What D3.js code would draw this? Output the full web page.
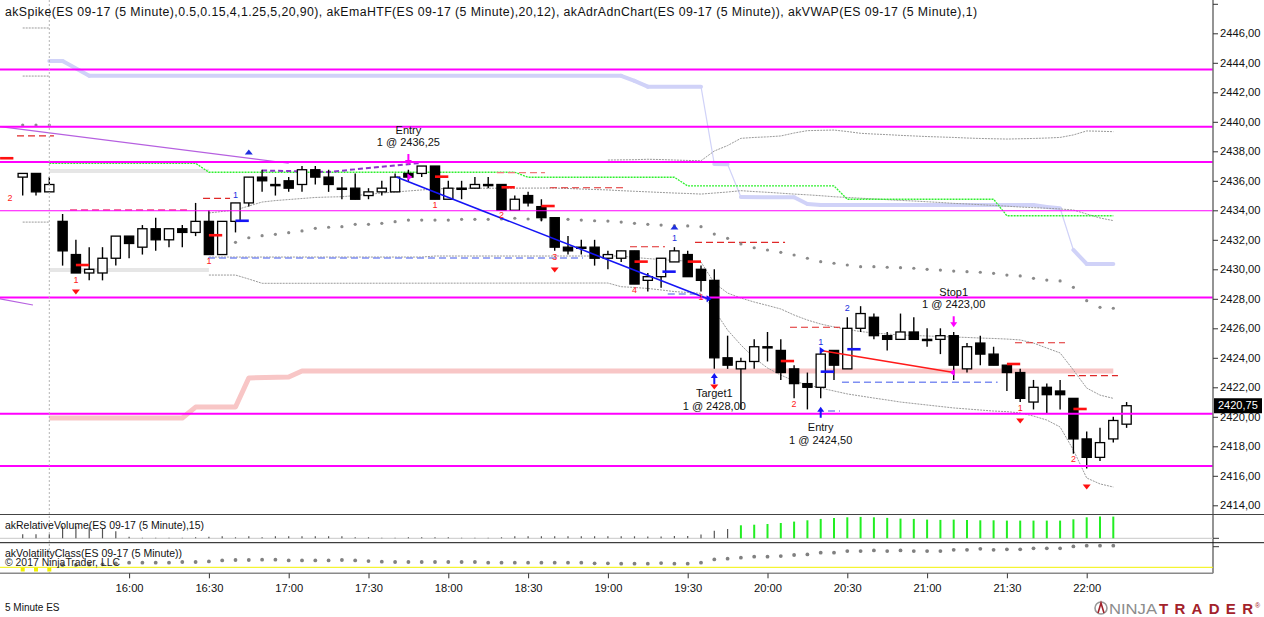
<!DOCTYPE html>
<html><head><meta charset="utf-8">
<script src="https://cdn.jsdelivr.net/npm/d3@7"></script>
<style>
html,body{margin:0;padding:0;background:#fff;overflow:hidden;}
svg{display:block;font-family:"Liberation Sans",Arial,sans-serif;}
</style></head><body>
<svg id="c" width="1264" height="617"></svg>
<script>
// ---------------- DATA ----------------
const firstBarTime = "15:20";
const barMinutes = 5;
const tickLabels = ["16:00","16:30","17:00","17:30","18:00","18:30","19:00","19:30","20:00","20:30","21:00","21:30","22:00"];
const priceTicks = [2414,2416,2418,2420,2422,2424,2426,2428,2430,2432,2434,2436,2438,2440,2442,2444,2446,2448];
const lastPrice = 2420.75;

const open  = [2436.25,2436.5,2435.25,2433.25,2431.0,2429.75,2429.75,2430.75,2432.25,2431.5,2432.75,2432.0,2432.75,2432.5,2433.25,2431.0,2433.25,2434.5,2436.25,2435.75,2436.0,2435.75,2436.75,2436.25,2435.5,2435.5,2435.0,2435.25,2435.25,2436.5,2436.5,2437.0,2434.75,2435.5,2435.5,2435.75,2435.75,2434.0,2435.0,2434.25,2433.5,2431.5,2431.5,2431.5,2430.75,2430.75,2431.25,2429.25,2429.5,2430.5,2431.0,2430.0,2429.25,2424.0,2423.25,2423.75,2424.75,2424.5,2423.25,2422.25,2422.0,2424.5,2423.25,2426.0,2426.75,2425.5,2425.25,2425.75,2425.25,2425.25,2425.5,2423.25,2425.0,2424.25,2423.5,2423.0,2421.0,2422.0,2421.75,2421.25,2418.5,2417.25,2418.5,2419.5];
const high  = [2436.5,2436.5,2436.25,2433.75,2432.0,2431.5,2431.5,2432.25,2432.25,2433.0,2433.5,2432.75,2433.0,2434.5,2434.0,2433.25,2434.5,2436.25,2436.75,2436.25,2436.25,2437.0,2437.0,2436.75,2436.25,2436.5,2435.5,2436.0,2436.5,2436.75,2437.0,2437.0,2436.0,2436.0,2436.25,2436.25,2435.75,2435.0,2435.25,2434.75,2433.5,2432.25,2432.0,2432.0,2431.25,2431.25,2431.25,2429.75,2430.75,2431.5,2431.25,2430.25,2430.0,2425.5,2424.0,2425.25,2425.75,2425.25,2423.5,2423.0,2424.5,2424.5,2426.75,2427.5,2427.0,2425.75,2427.0,2426.75,2426.0,2426.0,2425.75,2425.0,2425.5,2424.75,2423.5,2423.25,2422.5,2422.25,2422.5,2421.25,2419.0,2419.25,2420.0,2421.0];
const low   = [2435.0,2435.0,2435.25,2430.25,2429.75,2429.25,2429.25,2430.25,2430.75,2431.0,2431.25,2431.5,2431.5,2432.25,2431.0,2431.0,2432.5,2434.25,2435.25,2435.0,2435.25,2435.25,2435.75,2435.25,2434.75,2434.75,2434.75,2435.0,2435.25,2436.0,2436.25,2434.75,2434.75,2434.75,2435.5,2435.5,2434.0,2434.0,2434.25,2433.25,2431.25,2431.0,2431.0,2430.25,2430.0,2430.5,2429.0,2428.5,2428.75,2430.5,2429.5,2428.5,2423.25,2423.25,2420.5,2423.25,2423.75,2422.5,2421.25,2420.5,2421.25,2422.5,2423.25,2425.75,2425.25,2424.5,2425.25,2425.25,2424.75,2424.25,2422.5,2423.0,2423.5,2423.5,2421.75,2421.0,2420.5,2420.25,2420.5,2417.5,2416.5,2417.0,2418.25,2419.25];
const close = [2436.5,2435.25,2435.75,2431.25,2429.75,2430.0,2430.75,2432.25,2431.75,2432.75,2432.0,2432.75,2432.5,2433.25,2431.0,2433.25,2434.5,2436.25,2436.0,2435.75,2435.5,2436.75,2436.25,2435.75,2435.5,2434.75,2435.25,2435.5,2436.25,2436.25,2437.0,2434.75,2435.5,2435.5,2435.75,2435.75,2434.0,2434.75,2434.5,2433.5,2431.5,2431.25,2431.5,2430.75,2431.0,2431.25,2429.0,2429.5,2430.75,2431.25,2429.5,2429.25,2424.0,2423.5,2423.75,2424.75,2424.75,2423.0,2422.25,2422.0,2424.25,2423.5,2426.0,2427.0,2425.5,2425.25,2425.75,2425.25,2425.25,2425.5,2423.5,2424.75,2424.25,2423.5,2423.0,2421.25,2422.0,2421.5,2421.5,2418.5,2417.25,2418.25,2419.75,2420.75];

// horizontal levels (magenta)
const magentaLevels = [2443.55,2439.67,2437.27,2433.97,2428.08,2420.2,2416.67];

// indicator polylines: [barIndex, price]
const emaHTF = [[2,2444.12],[3,2444.12],[5,2443.12],[45,2443.12],[46,2442.77],[47,2442.38],[51,2442.38],[52,2437.14],[53,2437.12],[54,2434.9],[58,2434.88],[59,2434.43],[60,2434.36],[76,2434.36],[77,2434.22],[78,2434.14],[79,2431.31],[80,2430.36],[82,2430.36]];
const greenLevel = [[2,2437.19],[13,2437.19],[14,2436.58],[37,2436.58],[38,2436.24],[49,2436.24],[50,2435.65],[61,2435.65],[62,2434.75],[73,2434.75],[74,2433.63],[82,2433.63]];
const pinkLevel = [[2,2419.92],[12,2419.92],[13,2420.66],[16,2420.66],[17,2422.63],[20,2422.7],[21,2423.1],[82,2423.1]];
const greyLevelHigh = [[2,2436.66],[14,2436.66]];
const greyLevelLow = [[2,2429.95],[14,2429.95]];
const priorStubs = [[[0,2446.36],[2,2446.36]],[[0,2443.1],[2,2443.1]],[[0,2433.2],[2,2433.2]]];
const bandTop = [[44,2437.41],[46,2437.43],[47,2437.46],[48,2437.44],[49,2437.41],[50,2437.38],[51,2437.36],[52,2438.02],[53,2438.39],[54,2438.88],[55,2438.94],[56,2438.98],[57,2439.04],[58,2439.24],[59,2439.4],[60,2439.42],[61,2439.44],[62,2439.34],[63,2439.22],[64,2439.17],[65,2439.13],[66,2439.08],[67,2439.04],[68,2439.0],[69,2438.97],[70,2438.94],[71,2438.9],[72,2438.87],[73,2438.85],[74,2438.83],[75,2438.85],[76,2438.87],[77,2438.9],[78,2438.94],[79,2439.11],[80,2439.38],[81,2439.36],[82,2439.33]];
const bandUpper = [[14,2433.82],[15,2433.92],[16,2434.02],[17,2434.29],[18,2434.56],[19,2434.66],[20,2434.73],[21,2434.8],[22,2434.87],[23,2434.9],[24,2434.92],[25,2435.0],[26,2435.08],[27,2435.17],[28,2435.24],[29,2435.31],[30,2435.38],[31,2435.44],[32,2435.49],[40,2435.51],[41,2435.48],[42,2435.44],[43,2435.41],[44,2435.38],[45,2435.33],[46,2435.29],[47,2435.25],[48,2435.21],[49,2435.17],[50,2435.14],[51,2435.1],[52,2435.17],[53,2435.24],[54,2435.33],[55,2435.27],[56,2435.22],[57,2435.16],[58,2435.1],[59,2435.05],[60,2434.99],[61,2434.92],[62,2434.87],[63,2434.82],[64,2434.77],[65,2434.72],[66,2434.67],[67,2434.63],[68,2434.58],[69,2434.53],[70,2434.47],[71,2434.43],[72,2434.38],[73,2434.33],[74,2434.28],[75,2434.22],[76,2434.18],[77,2434.14],[78,2434.09],[79,2434.02],[80,2433.75],[81,2433.48],[82,2433.3]];
const bandMiddle = [[14,2430.83],[30,2430.83],[31,2430.9],[45,2430.9],[46,2430.8],[47,2430.73],[48,2430.66],[49,2430.6],[50,2430.56],[51,2430.49],[52,2429.07],[53,2428.39],[54,2428.05],[55,2427.78],[56,2427.55],[57,2427.31],[58,2426.9],[59,2426.56],[60,2426.29],[61,2426.09],[62,2425.92],[63,2425.78],[64,2425.68],[65,2425.61],[66,2425.55],[67,2425.51],[68,2425.48],[69,2425.44],[70,2425.41],[71,2425.38],[72,2425.34],[73,2425.31],[74,2425.27],[75,2425.21],[76,2425.0],[77,2424.66],[78,2424.33],[79,2423.17],[80,2421.95],[81,2421.47],[82,2421.25]];
const bandLower = [[14,2429.61],[16,2429.61],[17,2429.34],[18,2429.05],[44,2429.07],[45,2428.82],[46,2428.77],[47,2428.7],[48,2428.6],[49,2428.49],[50,2428.43],[51,2428.37],[52,2427.24],[53,2425.88],[54,2424.87],[55,2423.99],[56,2423.31],[57,2422.83],[58,2422.43],[59,2422.16],[60,2421.95],[61,2421.75],[62,2421.55],[63,2421.41],[64,2421.27],[65,2421.14],[66,2421.0],[67,2420.9],[68,2420.8],[69,2420.7],[70,2420.6],[71,2420.53],[72,2420.46],[73,2420.39],[74,2420.35],[75,2420.26],[76,2420.05],[77,2419.78],[78,2419.31],[79,2417.75],[80,2415.85],[81,2415.45],[82,2415.24]];
const purpleSolid = [[-1.71,2439.67],[20,2437.19]];
const purpleDashed = [[18,2436.7],[23,2436.6],[29.8,2437.2]];
const purpleStub = [[-1.71,2427.99],[0.77,2427.58]];

// VWAP dots (first index 15) and prior-session dots (index 0..2)
const vwapStart = 15;
const vwap = [2431.76,2431.83,2432.14,2432.28,2432.37,2432.48,2432.6,2432.78,2432.85,2432.89,2433.05,2433.05,2433.12,2433.23,2433.34,2433.34,2433.34,2433.34,2433.39,2433.39,2433.39,2433.41,2433.46,2433.41,2433.39,2433.39,2433.39,2433.34,2433.29,2433.27,2433.2,2433.12,2433.05,2433.0,2432.96,2432.94,2432.89,2432.39,2432.1,2431.72,2431.46,2431.31,2431.15,2430.97,2430.75,2430.52,2430.41,2430.29,2430.18,2430.18,2430.14,2430.11,2430.07,2430.0,2429.95,2429.88,2429.84,2429.8,2429.73,2429.61,2429.55,2429.39,2429.27,2429.21,2428.78,2427.87,2427.42,2427.36];
const vwapPrior = [2439.78,2439.78,2439.78];

// dashed level segments [fromBar, toBar, price]
const redDash = [[-0.43,2.35,2439.04],[13.56,15.59,2434.81],[39.65,45.44,2435.53],[45.66,48.29,2431.53],[50.55,57.32,2431.82],[57.69,61.45,2426.07],[74.61,78.37,2425.02],[78.59,82.35,2422.79]];
const lightRedDash = [[35.66,39.27,2436.55]];
const pinkDash = [[3.56,12.35,2434.02]];
const blueDash = [[13.93,42.13,2430.77],[48.5,50.93,2428.33],[61.6,73.3,2422.34],[60.55,61.45,2420.39]];

// spike markers
const redMarks = [[-1.7,2437.53],[4,2430.29],[14,2432.31],[31,2436.28],[36,2435.56],[39,2434.29],[46,2430.52],[50,2430.52],[57,2423.78],[74,2423.58],[79,2420.53]];
const blueMarks = [[16,2433.29],[48.1,2429.84],[60,2423.06],[62,2424.58]];
const redDown = [[4,2428.46],[40,2429.95],[52,2422.02],[75,2419.72],[80,2415.24]];
const blueUp = [[17,2437.95],[49,2432.87]];
const redCounts = [[-0.95,2434.77,"2"],[4,2429.21,"1"],[14,2430.49,"1"],[31,2434.29,"1"],[36,2433.61,"2"],[40,2430.77,"3"],[46,2428.53,"4"],[51,2428.05,"1"],[58,2420.8,"2"],[75,2420.53,"1"],[79,2417.07,"2"]];
const blueCounts = [[16,2434.97,"1"],[49,2432.05,"1"],[60,2425.0,"1"],[62,2427.31,"2"]];

// trades
const tradeLines = [{side:"short",from:[28.1,2436.25],to:[51.5,2428.0]},{side:"long",from:[60,2424.5],to:[70,2423.0]}];
const tradeArrows = [
  {i:29,tip:2437.07,dir:"down",kind:"entryShort",text:["Entry","1 @ 2436,25"]},
  {i:52,tip:2422.97,dir:"up",kind:"exit",text:["Target1","1 @ 2428,00"]},
  {i:60,tip:2420.68,dir:"up",kind:"entryLong",text:["Entry","1 @ 2424,50"]},
  {i:70,tip:2426.07,dir:"down",kind:"stop",text:["Stop1","1 @ 2423,00"]}
];
const fillMarks = [{i:29,p:2436.25,kind:"m"},{i:51.5,p:2428.0,kind:"b"},{i:60,p:2424.5,kind:"b"},{i:70,p:2423.0,kind:"mL"}];

// lower panels
const relVolume = [0.4,0.4,0.4,1.2,1.2,1.1,1.0,0.7,0.15,0.05,0.05,0.05,0.05,0.1,0.15,0.2,0.1,0.2,0.1,0.2,0.2,0.2,0.2,0.2,0.2,0.1,0.1,0.05,0.05,0.1,0.1,0.1,0.1,0.05,0.05,0.05,0.1,0.2,0.2,0.2,0.2,0.2,0.2,0.2,0.2,0.2,0.2,0.17,0.17,0.24,0.24,0.37,0.75,0.92,1.3,1.36,1.43,1.53,1.67,1.8,1.94,2.04,2.1,2.14,2.1,2.04,1.97,1.94,1.87,1.84,1.87,1.84,1.8,1.8,1.77,1.77,1.77,1.77,1.77,1.9,2.1,2.17,2.17];
const relVolumeThreshold = 1.25;
const volClassStart = 3;
const volClass = [0.93,0.93,1.06,1.22,1.63,1.87,1.87,1.87,1.87,2.15,2.15,2.4,2.8,2.97,2.97,3.09,3.09,2.8,2.8,2.8,2.8,2.97,2.8,2.52,2.28,2.15,2.15,2.15,2.15,2.15,2.15,2.15,1.87,1.87,1.87,1.87,1.87,1.87,1.87,1.87,1.63,1.63,1.46,1.46,1.46,1.73,1.46,1.46,1.87,3.21,3.5,3.9,4.3,4.3,4.55,5.0,5.24,5.93,5.93,6.59,6.59,6.87,6.59,6.87,6.59,6.59,6.59,7.11,7.11,7.52,7.11,7.3,7.3,7.7,7.7,7.7,8.5,8.8,8.8,8.8];
const volClassPrior = [-0.9,-0.9,-0.9];

const headerText = "akSpike(ES 09-17 (5 Minute),0.5,0.15,4,1.25,5,20,90), akEmaHTF(ES 09-17 (5 Minute),20,12), akAdrAdnChart(ES 09-17 (5 Minute)), akVWAP(ES 09-17 (5 Minute),1)";

// ---------------- DRAW ----------------
const [h0,m0] = firstBarTime.split(":").map(Number);
const times = open.map((_,i)=>{const t=h0*60+m0+i*barMinutes;return String(Math.floor(t/60)).padStart(2,"0")+":"+String(t%60).padStart(2,"0");});
const tickIdx = tickLabels.map(l=>times.indexOf(l));

const W=1264, AX=1213;
const x = d3.scaleLinear().domain([0,open.length-1]).range([22.7,1126.6]);
const y = d3.scaleLinear().domain([2414,2446]).range([505.3,33.3]);
const vy = d3.scaleLinear().domain([0,2.2]).range([538.3,516.3]);
const cy = d3.scaleLinear().domain([0,10]).range([567.3,542.7]);
const fmt = d=>d3.format(".2f")(d).replace(".",",");

const svg = d3.select("#c");
svg.append("rect").attr("width",W).attr("height",617).attr("fill","#fff");
svg.append("defs").append("clipPath").attr("id","mc").append("rect").attr("x",0).attr("y",0).attr("width",AX).attr("height",514);
const main = svg.append("g").attr("clip-path","url(#mc)");
const pl = d3.line().x(d=>x(d[0])).y(d=>y(d[1]));

function path(g,data,stroke,w,dash,op){const p=g.append("path").attr("d",pl(data)).attr("fill","none").attr("stroke",stroke).attr("stroke-width",w).attr("stroke-linejoin","round");if(dash)p.attr("stroke-dasharray",dash);if(op)p.attr("opacity",op);return p;}

// session separator
svg.append("line").attr("x1",49.3).attr("x2",49.3).attr("y1",0).attr("y2",573).attr("stroke","#b5b5b5").attr("stroke-dasharray","2,2");

// background levels
path(main,greyLevelHigh,"#e6e6e6",4);
path(main,greyLevelLow,"#e6e6e6",4);
path(main,pinkLevel,"#f8c6c6",5);
// EMA HTF: thick where flat, thin where steep
const emaSegs = d3.pairs(emaHTF);
main.selectAll(null).data(emaSegs).join("line")
  .attr("x1",d=>x(d[0][0])).attr("y1",d=>y(d[0][1])).attr("x2",d=>x(d[1][0])).attr("y2",d=>y(d[1][1]))
  .attr("stroke","#d0d2f8").attr("stroke-linecap","round")
  .attr("stroke-width",d=>Math.abs(y(d[1][1])-y(d[0][1]))>1.2*Math.abs(x(d[1][0])-x(d[0][0]))?1.2:4);
[bandTop,bandUpper,bandMiddle,bandLower].forEach(b=>path(main,b,"#9a9a9a",1,"2,1"));
priorStubs.forEach(b=>path(main,b,"#9a9a9a",1,"2,1"));
path(main,greenLevel,"#2ef02e",1.3,"2,1");
path(main,purpleSolid,"#b660e0",1.2);
path(main,purpleDashed,"#8a38c8",2,"5,3");
path(main,purpleStub,"#b660e0",1.2);

function dashSegs(arr,color,w,dash){main.selectAll(null).data(arr).join("line").attr("x1",d=>x(d[0])).attr("x2",d=>x(d[1])).attr("y1",d=>y(d[2])).attr("y2",d=>y(d[2])).attr("stroke",color).attr("stroke-width",w).attr("stroke-dasharray",dash);}
dashSegs(redDash,"#e02828",1.2,"7,4");
dashSegs(lightRedDash,"#f07878",1.2,"7,4");
dashSegs(pinkDash,"#f03c80",1.5,"7,4");
dashSegs(blueDash,"#7f8ff2",1.5,"7,4");

// VWAP dots
main.selectAll(null).data(vwap).join("circle").attr("cx",(d,i)=>x(vwapStart+i)).attr("cy",d=>y(d)).attr("r",1.6).attr("fill","#8a8a8a");
main.selectAll(null).data(vwapPrior).join("circle").attr("cx",(d,i)=>x(i)).attr("cy",d=>y(d)).attr("r",1.6).attr("fill","#8a8a8a");

// candles
const bars = open.map((o,i)=>({i,o,h:high[i],l:low[i],c:close[i]}));
main.selectAll(null).data(bars).join("line").attr("x1",d=>x(d.i)).attr("x2",d=>x(d.i)).attr("y1",d=>y(d.h)).attr("y2",d=>y(d.l)).attr("stroke","#000").attr("stroke-width",1.4);
main.selectAll(null).data(bars).join("rect")
  .attr("x",d=>x(d.i)-4.6).attr("width",9.2)
  .attr("y",d=>y(Math.max(d.o,d.c))).attr("height",d=>Math.max(1.2,Math.abs(y(d.o)-y(d.c))))
  .attr("fill",d=>d.c>d.o?"#fff":"#000").attr("stroke","#000").attr("stroke-width",1.3);

// magenta levels
main.selectAll(null).data(magentaLevels).join("line").attr("x1",0).attr("x2",AX).attr("y1",d=>y(d)).attr("y2",d=>y(d))
  .attr("stroke","#ff00ff").attr("stroke-width",(d,i)=>i===3?1.2:2);

// trade lines
tradeLines.forEach(t=>path(main,[t.from,t.to],t.side==="short"?"#1515f5":"#ff1a1a",1.6));

// spike markers
main.selectAll(null).data(redMarks).join("line").attr("x1",d=>x(d[0])).attr("x2",d=>x(d[0]+1)).attr("y1",d=>y(d[1])).attr("y2",d=>y(d[1])).attr("stroke","#ff1010").attr("stroke-width",2.6);
main.selectAll(null).data(blueMarks).join("line").attr("x1",d=>x(d[0])).attr("x2",d=>x(d[0]+1)).attr("y1",d=>y(d[1])).attr("y2",d=>y(d[1])).attr("stroke","#1515f5").attr("stroke-width",2.6);
main.selectAll(null).data(redDown).join("path").attr("d",d=>{const cx=x(d[0]),c=y(d[1]);return `M${cx-4},${c-2.5}L${cx+4},${c-2.5}L${cx},${c+2.5}Z`;}).attr("fill","#ff1010");
main.selectAll(null).data(blueUp).join("path").attr("d",d=>{const cx=x(d[0]),c=y(d[1]);return `M${cx-4},${c+2.5}L${cx+4},${c+2.5}L${cx},${c-2.5}Z`;}).attr("fill","#2030e0");
main.selectAll(null).data(redCounts).join("text").attr("x",d=>x(d[0])).attr("y",d=>y(d[1])).attr("text-anchor","middle").attr("dominant-baseline","middle").attr("font-size",9).attr("fill","#ff2020").text(d=>d[2]);
main.selectAll(null).data(blueCounts).join("text").attr("x",d=>x(d[0])).attr("y",d=>y(d[1])).attr("text-anchor","middle").attr("dominant-baseline","middle").attr("font-size",9).attr("fill","#2030e0").text(d=>d[2]);

// fill markers
main.selectAll(null).data(fillMarks).join("path").attr("d",d=>{const cx=x(d.i),c=y(d.p);return d.kind==="mL"?`M${cx-4},${c}L${cx+1},${c-3.5}L${cx+1},${c+3.5}Z`:`M${cx-1},${c-3.5}L${cx+4},${c}L${cx-1},${c+3.5}Z`;}).attr("fill",d=>d.kind==="b"?"#1515f5":"#ff00ff");

// trade arrows + labels
const aCol = k=>(k==="entryShort"||k==="stop")?"#ff00ff":"#1515f5";
tradeArrows.forEach(a=>{
  const cx=x(a.i), t=y(a.tip), s=a.dir==="down"?-1:1;
  main.append("line").attr("x1",cx).attr("x2",cx).attr("y1",t+s*4).attr("y2",t+s*11).attr("stroke",aCol(a.kind)).attr("stroke-width",2);
  main.append("path").attr("d",`M${cx-3.5},${t+s*5}L${cx+3.5},${t+s*5}L${cx},${t}Z`).attr("fill",aCol(a.kind));
  const y1 = a.dir==="down"? t-34 : t+21, y2 = a.dir==="down"? t-22 : t+34;
  main.append("text").attr("x",cx).attr("y",y1).attr("text-anchor","middle").attr("dominant-baseline","middle").attr("font-size",11).attr("fill","#111").text(a.text[0]);
  main.append("text").attr("x",cx).attr("y",y2).attr("text-anchor","middle").attr("dominant-baseline","middle").attr("font-size",11).attr("fill","#111").text(a.text[1]);
});

// header
svg.append("text").attr("x",5).attr("y",16).attr("font-size",12.3).attr("fill","#111").attr("textLength",972).attr("lengthAdjust","spacing").text(headerText);

// right axis
svg.append("line").attr("x1",AX).attr("x2",AX).attr("y1",0).attr("y2",573.3).attr("stroke","#707070").attr("stroke-width",1.5);
const yAxis = d3.axisRight(y).tickValues(priceTicks).tickSize(5).tickPadding(2).tickFormat(d=>d>2446?"":fmt(d));
const ya = svg.append("g").attr("transform",`translate(${AX},0)`).call(yAxis);
ya.select(".domain").remove();
ya.selectAll("text").attr("font-size",11.2).attr("font-family","'Liberation Sans',Arial,sans-serif").attr("fill","#111");
ya.selectAll("line").attr("stroke","#333");
// last price tag
svg.append("rect").attr("x",1214).attr("y",y(lastPrice)-7.5).attr("width",48).attr("height",15).attr("fill","#000");
svg.append("text").attr("x",1218).attr("y",y(lastPrice)+0.5).attr("dominant-baseline","middle").attr("font-size",11).attr("fill","#fff").text(fmt(lastPrice));

// lower panels
svg.append("line").attr("x1",0).attr("x2",W).attr("y1",514.5).attr("y2",514.5).attr("stroke","#444");
svg.append("line").attr("x1",0).attr("x2",AX).attr("y1",538.3).attr("y2",538.3).attr("stroke","#c8c8c8");
svg.append("line").attr("x1",0).attr("x2",W).attr("y1",542.7).attr("y2",542.7).attr("stroke","#111");
svg.append("line").attr("x1",0).attr("x2",AX).attr("y1",567.3).attr("y2",567.3).attr("stroke","#f2f200");
[538.3,546.7].forEach(v=>svg.append("line").attr("x1",AX).attr("x2",AX+6).attr("y1",v).attr("y2",v).attr("stroke","#333"));
svg.selectAll(null).data(relVolume).join("line").attr("x1",(d,i)=>x(i)).attr("x2",(d,i)=>x(i)).attr("y1",vy(0)).attr("y2",d=>vy(d))
  .attr("stroke",d=>d>relVolumeThreshold?"#22ee22":"#555").attr("stroke-width",d=>d>relVolumeThreshold?2:1.2);
svg.selectAll(null).data(volClass).join("circle").attr("cx",(d,i)=>x(volClassStart+i)).attr("cy",d=>cy(d)).attr("r",1.9).attr("fill","#808080");
svg.selectAll(null).data(volClassPrior).join("rect").attr("x",(d,i)=>x(i)-2).attr("y",d=>cy(d)-2).attr("width",4).attr("height",4).attr("fill","#f0f000");
svg.append("text").attr("x",5).attr("y",529).attr("font-size",11).attr("fill","#111").attr("textLength",199).attr("lengthAdjust","spacingAndGlyphs").text("akRelativeVolume(ES 09-17 (5 Minute),15)");
svg.append("text").attr("x",5).attr("y",557).attr("font-size",11).attr("fill","#111").attr("textLength",177).attr("lengthAdjust","spacingAndGlyphs").text("akVolatilityClass(ES 09-17 (5 Minute))");
svg.append("text").attr("x",5).attr("y",565.5).attr("font-size",11).attr("fill","#222").attr("textLength",115).attr("lengthAdjust","spacingAndGlyphs").text("\u00A9 2017 NinjaTrader, LLC");

// x axis
svg.append("line").attr("x1",0).attr("x2",AX).attr("y1",573.3).attr("y2",573.3).attr("stroke","#8a8a8a").attr("stroke-width",1.6);
const xAxis = d3.axisBottom(x).tickValues(tickIdx).tickFormat(i=>times[i]).tickSize(5).tickPadding(6);
const xa = svg.append("g").attr("transform","translate(0,573.3)").call(xAxis);
xa.select(".domain").remove();
xa.selectAll("text").attr("font-size",11.2).attr("font-family","'Liberation Sans',Arial,sans-serif").attr("fill","#111");
xa.selectAll("line").attr("stroke","#333");

svg.append("text").attr("x",5).attr("y",611).attr("font-size",10).attr("fill","#111").text("5 Minute ES");

// NinjaTrader logo
const lg = svg.append("g");
lg.append("circle").attr("cx",1101).attr("cy",608).attr("r",6).attr("fill","none").attr("stroke","#999").attr("stroke-width",1.6);
lg.append("path").attr("d","M1098,613 L1101,603 L1104,613").attr("fill","none").attr("stroke","#a0222a").attr("stroke-width",1.6);
lg.append("text").attr("x",1109).attr("y",613.5).attr("font-size",15).attr("fill","#8c8c8c").attr("textLength",48).attr("lengthAdjust","spacingAndGlyphs").text("NINJA");
lg.append("text").attr("x",1159).attr("y",613.5).attr("font-size",15).attr("font-weight","bold").attr("fill","#a3222b").attr("textLength",94).attr("lengthAdjust","spacing").text("TRADER");
lg.append("text").attr("x",1255).attr("y",608).attr("font-size",7).attr("fill","#a3222b").text("\u00AE");
</script>
</body></html>
